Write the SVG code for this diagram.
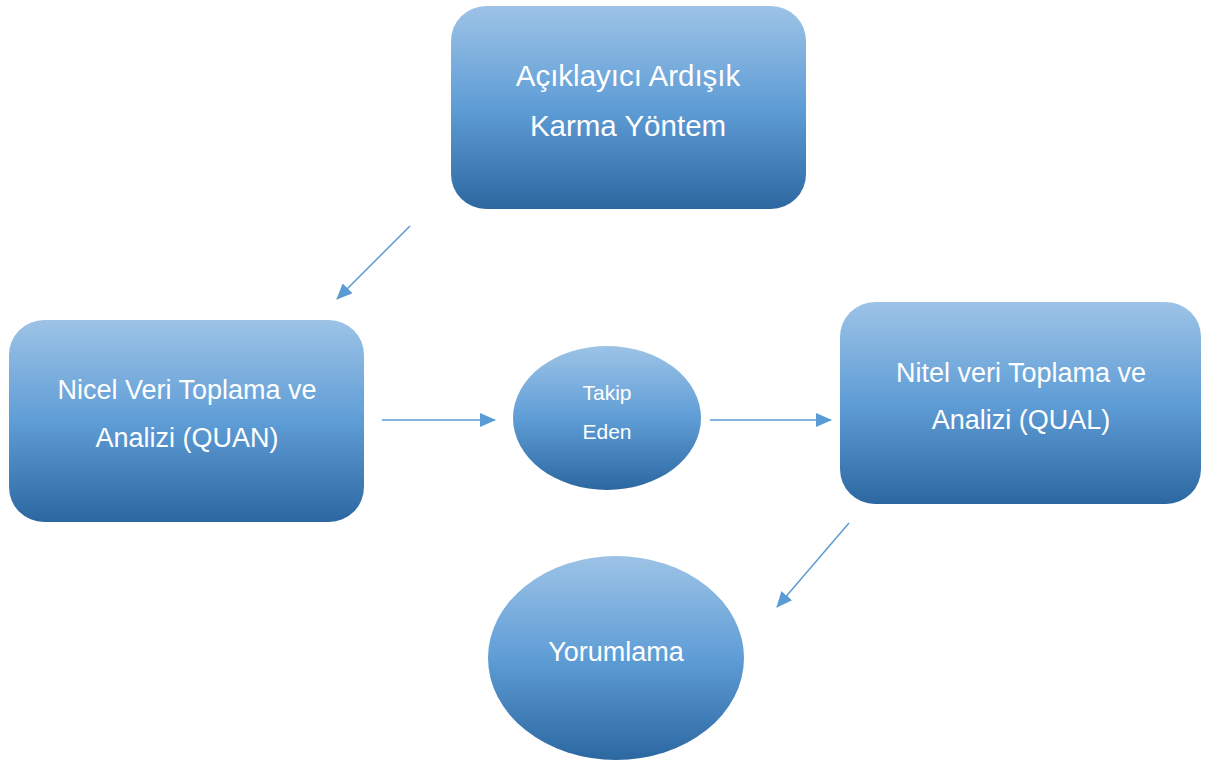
<svg xmlns="http://www.w3.org/2000/svg" width="1206" height="760" viewBox="0 0 1206 760">
<defs>
<linearGradient id="g" x1="0" y1="0" x2="0" y2="1">
<stop offset="0" stop-color="#9dc3e6"/>
<stop offset="0.5" stop-color="#5f9dd6"/>
<stop offset="1" stop-color="#2c67a0"/>
</linearGradient>
<marker id="ah" viewBox="0 0 16 14" refX="15" refY="7" markerWidth="16" markerHeight="14" markerUnits="userSpaceOnUse" orient="auto">
<path d="M0,0 L16,7 L0,14 Z" fill="#5b9bd5"/>
</marker>
<style>
.n{fill:url(#g);}
.t{fill:#ffffff;text-anchor:middle;}
.c{stroke:#5b9bd5;stroke-width:1.5;fill:none;marker-end:url(#ah);}
</style>
</defs>
<rect width="1206" height="760" fill="#ffffff"/>
<g id="connectors">
<line class="c" x1="410" y1="226" x2="337" y2="299"/>
<line class="c" x1="382" y1="420" x2="495" y2="420"/>
<line class="c" x1="710" y1="420" x2="831" y2="420"/>
<line class="c" x1="849" y1="523" x2="777" y2="607"/>
</g>
<g font-family="'Liberation Sans', Arial, sans-serif">
<g id="top">
<rect class="n" x="451" y="6" width="355" height="203" rx="35"/>
<text class="t" x="628" y="86" font-size="29.5">Açıklayıcı Ardışık</text>
<text class="t" x="628" y="136" font-size="29.5">Karma Yöntem</text>
</g>
<g id="quan">
<rect class="n" x="9" y="320" width="355" height="202" rx="35"/>
<text class="t" x="187" y="399" font-size="27">Nicel Veri Toplama ve</text>
<text class="t" x="187" y="447" font-size="27">Analizi (QUAN)</text>
</g>
<g id="takip">
<ellipse class="n" cx="607" cy="418" rx="94" ry="72"/>
<text class="t" x="607" y="400" font-size="21">Takip</text>
<text class="t" x="607" y="439" font-size="21">Eden</text>
</g>
<g id="qual">
<rect class="n" x="840" y="302" width="361" height="202" rx="35"/>
<text class="t" x="1021" y="382" font-size="27">Nitel veri Toplama ve</text>
<text class="t" x="1021" y="429" font-size="27">Analizi (QUAL)</text>
</g>
<g id="yorum">
<ellipse class="n" cx="616" cy="658" rx="128" ry="102"/>
<text class="t" x="616" y="661" font-size="27">Yorumlama</text>
</g>
</g>
</svg>
